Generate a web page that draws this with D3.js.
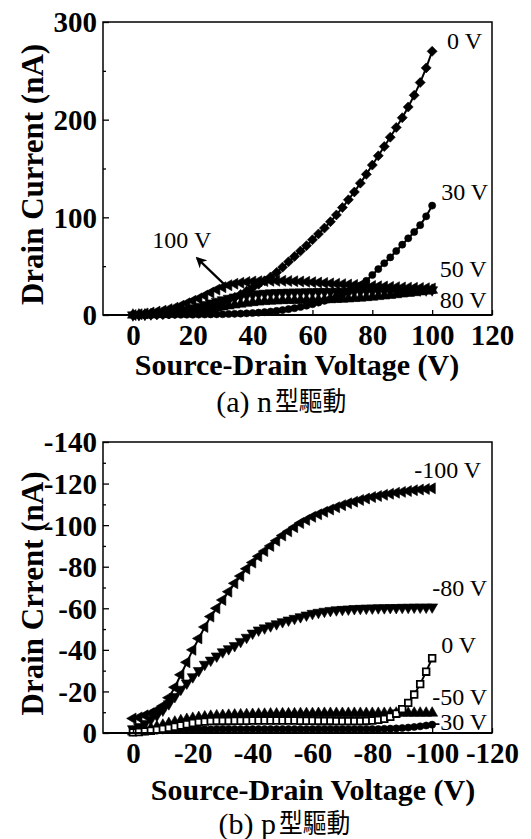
<!DOCTYPE html>
<html>
<head>
<meta charset="utf-8">
<script src="https://cdn.jsdelivr.net/npm/d3@7"></script>
<style>
body { margin: 0; background: #fff; }
</style>
</head>
<body>
<div id="chart"></div>
<script>
var svgWidth = 531;
var svgHeight = 839;

// sampling grid of the source-drain voltage (V)
var vdsN = d3.range(0, 101, 2);
var vdsP = d3.range(0, -101, -2);

// (a) n-type drain current (nA), one array per gate voltage
var nI0 = [0,0,0.2,0.3,0.4,0.6,1,1.4,2,2.8,3.8,5,6.5,8.5,10.5,13,15.5,18,21,24.5,28,31.5,35,39,43.5,49,54.5,60,65.5,71,77,83,89,95.5,102.5,110,118,126,135,144,153.5,163,172.5,182,192,202,213,225,238,253,270];
var nI30 = [0,0,0,0,0,0.1,0.1,0.2,0.2,0.3,0.3,0.4,0.5,0.6,0.7,0.8,1,1.2,1.4,1.7,2,2.4,2.9,3.5,4.2,5,6,7,8.2,9.5,11,12.7,14.5,16.5,18.7,21,23.5,26.5,30,35,41,47,53,59,65.5,72,78.5,85,92,101,112];
var nI50 = [0,0.1,0.2,0.4,0.6,0.9,1.2,1.6,2.1,2.7,3.4,4.2,5.1,6.1,7.2,8.3,9.4,10.4,11.3,12.1,12.8,13.4,13.9,14.3,14.6,14.8,15,15.1,15.2,15.3,15.4,15.5,15.6,15.8,16,16.3,16.6,17,17.4,17.9,18.4,19,19.6,20.2,20.9,21.6,22.3,23,23.8,24.6,25.4];
var nI80 = [0,0.3,0.6,1,1.5,2,2.7,3.5,4.5,5.8,7.2,8.8,10.5,12.2,14,15.5,17,18.3,19.4,20.3,21,21.6,22.1,22.5,22.8,23,23.2,23.4,23.5,23.6,23.7,23.8,23.9,24,24.1,24.2,24.3,24.4,24.5,24.6,24.7,24.8,24.9,25,25.1,25.2,25.3,25.4,25.5,25.6,25.7];
var nI100 = [0,0.8,1.6,2.5,3.5,4.5,6,7.5,9.5,12,14.5,17,20,23,26,28.5,30.5,32,33,33.8,34.3,34.6,34.8,35,35,35,34.8,34.6,34.3,34,33.6,33.2,32.8,32.4,32,31.6,31.2,30.8,30.4,30,29.7,29.4,29.1,28.8,28.5,28.2,28,27.8,27.6,27.4,27.2];

// (b) p-type drain current (nA)
var pI100 = [-7,-7.5,-8.5,-9.5,-11,-13,-17,-22,-28,-34,-40,-45.5,-51,-56,-60,-64,-68,-72,-75.5,-79,-82,-85,-87.5,-90,-92.5,-95,-97,-99,-101,-102.5,-104,-105.2,-106.4,-107.5,-108.6,-109.6,-110.5,-111.3,-112.1,-112.8,-113.5,-114,-114.6,-115.1,-115.6,-116,-116.4,-116.8,-117.1,-117.4,-117.7];
var pI80 = [-2,-3,-4.5,-6.5,-8.5,-11,-14,-17.5,-21,-24,-27,-30,-33,-35,-37,-39,-40.5,-42,-44,-46,-48,-49.5,-50.5,-51.5,-52.5,-53.5,-54.3,-55.1,-55.9,-56.7,-57.5,-58,-58.5,-58.9,-59.2,-59.4,-59.6,-59.8,-59.9,-60,-60.1,-60.2,-60.2,-60.3,-60.3,-60.4,-60.4,-60.5,-60.5,-60.5,-60.6];
var pI0 = [-0.3,-0.5,-0.8,-1.1,-1.5,-2,-2.5,-3,-3.6,-4.2,-4.8,-5.2,-5.5,-5.7,-5.8,-5.8,-5.8,-5.9,-5.9,-5.9,-6,-6,-6,-6,-6,-6,-6,-6,-5.9,-5.9,-5.9,-5.8,-5.8,-5.8,-5.7,-5.7,-5.7,-5.7,-5.7,-5.8,-6,-6.3,-6.8,-7.8,-9.3,-11.5,-14.5,-18.5,-23.5,-29.5,-36];
var pI50 = [-0.5,-1,-1.5,-2.2,-3,-3.8,-4.6,-5.3,-6,-6.6,-7.1,-7.5,-7.8,-8.1,-8.3,-8.5,-8.6,-8.7,-8.8,-8.9,-9,-9.1,-9.1,-9.2,-9.2,-9.3,-9.3,-9.3,-9.4,-9.4,-9.4,-9.5,-9.5,-9.5,-9.5,-9.5,-9.5,-9.5,-9.5,-9.5,-9.5,-9.5,-9.5,-9.6,-9.6,-9.6,-9.6,-9.6,-9.6,-9.6,-9.6];
var pI30 = [-0.3,-0.5,-0.7,-0.9,-1.1,-1.3,-1.5,-1.6,-1.7,-1.8,-1.8,-1.8,-1.8,-1.8,-1.9,-1.9,-1.9,-1.9,-1.9,-1.9,-1.9,-1.9,-1.9,-1.9,-1.9,-1.9,-1.9,-1.9,-1.9,-1.9,-1.9,-1.9,-1.9,-1.9,-1.9,-1.9,-1.9,-1.9,-1.9,-1.9,-1.9,-1.9,-2,-2.1,-2.2,-2.4,-2.6,-2.9,-3.2,-3.6,-4];

// tick values
var nXTicks = [0, 20, 40, 60, 80, 100, 120];
var nYTicks = [0, 100, 200, 300];
var nYMinor = [50, 150, 250];
var pXTicks = [0, -20, -40, -60, -80, -100, -120];
var pYTicks = [0, -20, -40, -60, -80, -100, -120, -140];
var pYMinor = [-10, -30, -50, -70, -90, -110, -130];

var serif = "'Liberation Serif', 'Times New Roman', serif";

var svg = d3.select("#chart")
  .append("svg")
  .attr("width", svgWidth)
  .attr("height", svgHeight)
  .style("background", "#fff");

// marker shapes
function marker(g, kind, x, y) {
  var type = d3.symbolTriangle, rot = 0, size = 52, open = false;
  if (kind === "square") { type = d3.symbolSquare; size = 50; rot = 45; }
  if (kind === "openSquare") { type = d3.symbolSquare; size = 44; open = true; }
  if (kind === "circle") { type = d3.symbolCircle; size = 40; }
  if (kind === "down") { rot = 180; }
  if (kind === "left") { rot = -90; }
  g.append("path")
    .attr("d", d3.symbol().type(type).size(size)())
    .attr("transform", `translate(${x},${y}) rotate(${rot})`)
    .attr("fill", open ? "#fff" : "#000")
    .attr("stroke", "#000")
    .attr("stroke-width", open ? 1.8 : 0.6);
}

function negFmt(d) {
  return d === 0 ? "0" : "-" + Math.abs(d);
}

function drawPanel(cfg) {
  var x = d3.scaleLinear().domain(cfg.xDomain).range([103, 492]);
  var y = d3.scaleLinear().domain(cfg.yDomain).range([cfg.bottom, cfg.top]);
  var g = svg.append("g");

  // series
  cfg.series.forEach(function(s) {
    var line = d3.line()
      .x((d, i) => x(cfg.vds[i]))
      .y(d => y(d));
    g.append("path")
      .datum(s.values)
      .attr("d", line)
      .attr("fill", "none")
      .attr("stroke", "#000")
      .attr("stroke-width", 2);
    var mg = g.append("g");
    s.values.forEach(function(v, i) {
      marker(mg, s.symbol, x(cfg.vds[i]), y(v));
    });
  });

  // frame
  g.append("rect")
    .attr("x", 103).attr("y", cfg.top)
    .attr("width", 492 - 103).attr("height", cfg.bottom - cfg.top)
    .attr("fill", "none").attr("stroke", "#000").attr("stroke-width", 1.5);
  g.append("line")
    .attr("x1", 103).attr("x2", 492)
    .attr("y1", cfg.bottom).attr("y2", cfg.bottom)
    .attr("stroke", "#000").attr("stroke-width", 2.2);

  // axes
  var yAxis = g.append("g")
    .attr("transform", "translate(103,0)")
    .call(d3.axisLeft(y).tickValues(cfg.yTicks).tickFormat(cfg.yFmt)
      .tickSizeInner(-6).tickSizeOuter(0).tickPadding(6));
  var yMinor = g.append("g")
    .attr("transform", "translate(103,0)")
    .call(d3.axisLeft(y).tickValues(cfg.yMinor).tickFormat("")
      .tickSizeInner(-3).tickSizeOuter(0));
  var xAxis = g.append("g")
    .attr("transform", `translate(0,${cfg.bottom})`)
    .call(d3.axisBottom(x).tickValues(cfg.xTicks).tickFormat(cfg.xFmt)
      .tickSizeInner(-5).tickSizeOuter(0).tickPadding(9));

  [yAxis, yMinor, xAxis].forEach(function(a) {
    a.select(".domain").remove();
    a.selectAll("line").attr("stroke", "#000").attr("stroke-width", 1.3);
    a.selectAll("text")
      .attr("fill", "#000")
      .style("font-family", serif)
      .style("font-weight", "bold")
      .style("font-size", "29px");
  });
  yAxis.selectAll("text").attr("dy", "0.34em");
  xAxis.selectAll("text").attr("dy", "0.72em");

  // axis titles
  g.append("text")
    .attr("transform", `translate(43,${(cfg.top + cfg.bottom) / 2 + 6}) rotate(-90)`)
    .attr("text-anchor", "middle")
    .style("font-family", serif).style("font-weight", "bold").style("font-size", "31px")
    .text(cfg.yTitle);
  g.append("text")
    .attr("x", cfg.xTitleX).attr("y", cfg.bottom + cfg.titleDy)
    .attr("text-anchor", "middle")
    .style("font-family", serif).style("font-weight", "bold").style("font-size", "30px")
    .text("Source-Drain Voltage (V)");

  // curve labels
  cfg.labels.forEach(function(l) {
    g.append("text")
      .attr("x", x(l.x)).attr("y", y(l.y))
      .style("font-family", serif).style("font-size", "24px")
      .text(l.text);
  });

  // caption: latin part, then narrow CJK part
  var capY = cfg.bottom + cfg.capDy;
  g.append("text")
    .attr("x", cfg.capX).attr("y", capY)
    .attr("text-anchor", "end")
    .style("font-family", serif).style("font-size", "30px")
    .text(cfg.capLatin);
  g.append("text")
    .attr("transform", `translate(${cfg.capX + 3},${capY - 1}) scale(0.88,1)`)
    .style("font-family", "'Noto Sans CJK TC', sans-serif")
    .style("font-size", "27px")
    .text("型驅動");

  return { x: x, y: y, g: g };
}

var nPanel = drawPanel({
  xDomain: [-10, 120], yDomain: [0, 300], top: 22, bottom: 315,
  vds: vdsN,
  xTicks: nXTicks, yTicks: nYTicks, yMinor: nYMinor,
  xFmt: d3.format("d"), yFmt: d3.format("d"),
  yTitle: "Drain Current (nA)", xTitleX: 297, titleDy: 60,
  series: [
    { values: nI100, symbol: "left" },
    { values: nI80, symbol: "down" },
    { values: nI50, symbol: "up" },
    { values: nI30, symbol: "circle" },
    { values: nI0, symbol: "square" }
  ],
  labels: [
    { text: "0 V", x: 105, y: 272 },
    { text: "30 V", x: 103, y: 118 },
    { text: "50 V", x: 102.5, y: 39 },
    { text: "80 V", x: 102.5, y: 7 },
    { text: "100 V", x: 6.5, y: 69 }
  ],
  capX: 272, capDy: 97, capLatin: "(a) n"
});

// arrow toward the 100 V curve
nPanel.g.append("defs").append("marker")
  .attr("id", "ah").attr("viewBox", "0 0 10 10")
  .attr("refX", 8).attr("refY", 5)
  .attr("markerWidth", 5).attr("markerHeight", 5)
  .attr("orient", "auto")
  .append("path").attr("d", "M0,0 L10,5 L0,10 L3,5 Z").attr("fill", "#000");
nPanel.g.append("line")
  .attr("x1", nPanel.x(31.5)).attr("y1", nPanel.y(28.5))
  .attr("x2", nPanel.x(21.5)).attr("y2", nPanel.y(58))
  .attr("stroke", "#000").attr("stroke-width", 2.2)
  .attr("marker-end", "url(#ah)");

drawPanel({
  xDomain: [10, -120], yDomain: [0, -140], top: 442, bottom: 733,
  vds: vdsP,
  xTicks: pXTicks, yTicks: pYTicks, yMinor: pYMinor,
  xFmt: negFmt, yFmt: negFmt,
  yTitle: "Drain Crrent (nA)", xTitleX: 313, titleDy: 67,
  series: [
    { values: pI30, symbol: "circle" },
    { values: pI50, symbol: "up" },
    { values: pI80, symbol: "down" },
    { values: pI100, symbol: "left" },
    { values: pI0, symbol: "openSquare" }
  ],
  labels: [
    { text: "-100 V", x: -94, y: -122.5 },
    { text: "-80 V", x: -100, y: -66 },
    { text: "0 V", x: -103, y: -38.5 },
    { text: "-50 V", x: -100, y: -13.5 },
    { text: "-30 V", x: -100, y: -1.5 }
  ],
  capX: 276, capDy: 101, capLatin: "(b) p"
});
</script>
</body>
</html>
